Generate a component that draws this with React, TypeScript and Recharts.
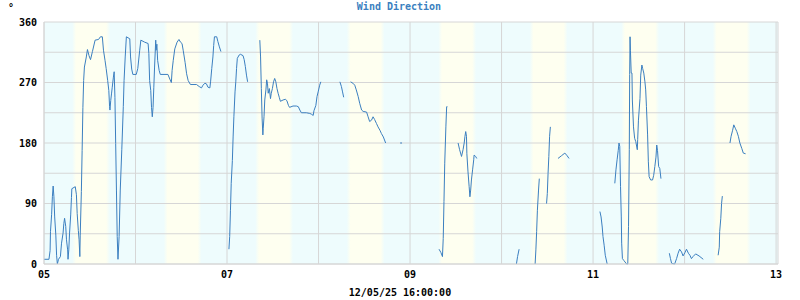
import { LineChart, Line, XAxis, YAxis, CartesianGrid, ReferenceArea } from "recharts";

// hours since 05 00:00, null = no reading
const hours = [
  0, 1.3, 1.6, 1.7, 2.0, 2.2, 2.4, 2.6, 2.8, 3.1, 3.3, 3.5, 3.8, 4.3, 4.6, 5.0, 5.2, 5.4, 5.7, 5.9, 6.2, 6.3, 6.5, 6.7, 7.0, 7.2, 7.3,
  8.2, 8.5, 8.7, 9.0, 9.2, 9.4, 9.5, 9.8, 10.0, 10.2, 10.4, 10.6, 11.1, 11.4, 11.8, 12.2, 12.7, 13.4, 14.3, 14.8, 15.3, 15.6, 16.0,
  16.3, 16.7, 17.0, 17.2, 17.3, 17.5, 17.7, 17.9, 18.2, 18.4, 18.6, 18.8, 19.0, 19.2, 19.4, 19.7, 20.0, 20.4, 20.8, 21.0, 21.3, 21.6,
  22.5, 22.7, 23.0, 23.3, 24.2, 24.6, 25.1, 25.4, 26.4, 27.3, 27.5, 27.7, 28.0, 28.2, 28.4, 28.6, 28.8, 29.0, 29.3, 29.4, 29.6, 29.8,
  30.2, 30.5, 32.5, 33.0, 33.4, 33.6, 33.9, 34.3, 34.9, 35.4, 35.8, 36.2, 36.5, 37.0, 37.4, 37.8, 38.4, 40.0, 40.7, 41.3, 41.7, 42.2,
  42.6, 43.0, 43.5, 43.7, 44.0, 44.3, 44.5, 44.7, 45.3, 45.6, 46.0, 46.4, 46.9,
  48.5, 48.7, 48.9, 49.1, 49.4, 49.6, 49.8, 50.1, 50.3, 50.5, 50.7, 51.2, 51.5, 52.2, 52.5, 52.8, 53.1, 53.4, 54.5,
  56.6, 56.8, 57.0, 57.2, 57.4, 57.5, 57.7, 57.9, 58.2, 58.4, 58.6, 58.8, 59.1, 59.4, 59.6, 59.9, 60.2, 60.5, 60.8, 61.1, 61.4, 61.7,
  62.0, 62.7, 63.3, 63.7, 64.1, 64.4, 65.3, 66.2, 66.7, 67.1, 67.5, 68.8, 69.7, 70.1, 70.6, 70.8, 71.3, 71.6, 71.9, 72.3, 72.6, 75,
  77.6, 78.0, 78.3, 78.6, 79.5,
  80.4, 81.0, 81.5, 81.9, 82.4, 82.8, 83.3, 83.7, 84.6, 85.0, 85.4, 85.9, 86.3, 86.7, 87.2, 87.6, 88.1, 88.5, 89.0, 89.6, 91,
  93.4, 93.9, 95,
  103.6, 104.1, 104.5, 104.7, 104.9, 105.1, 105.4, 105.6, 105.8, 107,
  108.6, 109.0, 109.5, 109.9, 110.2, 110.4, 110.6, 110.8, 110.9, 111.2, 111.5, 111.7, 111.9, 112.1, 112.4, 112.7, 112.8, 113.2, 113.5, 118,
  123.9, 124.2, 124.6, 126,
  128.8, 129.0, 129.2, 129.4, 129.7, 129.9, 130.8,
  131.8, 132.0, 132.2, 132.4, 132.6, 132.8, 133.5,
  134.8, 135.7, 136.6, 137.2, 137.7, 140,
  145.8, 146.1, 146.4, 146.6, 146.9, 147.2, 147.7, 148.5,
  149.7, 150.0, 150.3, 150.6, 150.8, 151.0, 151.2, 151.4, 151.5, 151.7, 152.1, 152.8, 153.1, 153.3, 153.5, 153.6, 153.7, 153.8, 154.0,
  154.2, 154.3, 154.6, 154.9, 155.2, 155.6, 155.7, 155.9, 156.3, 156.5, 156.8, 157.0, 157.3, 157.6, 157.8, 158.0, 158.3, 158.5, 158.7,
  159.1, 159.6, 159.9, 160.2, 160.5, 160.7, 160.9, 161.2, 161.5, 161.8, 163,
  164.0, 164.3, 164.6, 165.4, 165.9, 166.3, 166.7, 167.2, 167.6, 168.1, 168.5, 169.0, 169.4, 169.8, 170.2, 170.9, 171.8, 172.9, 174.5,
  176.8, 177.1, 177.2, 177.5, 177.7, 177.9, 179,
  179.9, 180.2, 180.6, 180.9, 181.3, 181.7, 182.1, 182.5, 183.0, 183.4, 184.0,
];

const direction: (number | null)[] = [
  7, 7, 20, 48, 74, 100, 116, 100, 70, 43, 13, 0, 7, 11, 31, 46, 60, 68, 56, 36, 21, 7, 21, 46, 73, 99, 112,
  115, 103, 75, 50, 36, 11, 43, 108, 169, 233, 273, 293, 308, 319, 310, 304, 316, 333, 334, 338, 338, 318, 303,
  291, 273, 258, 234, 229, 243, 253, 263, 278, 286, 248, 179, 110, 41, 7, 41, 110, 170, 234, 273, 308, 338,
  335, 308, 290, 282, 282, 291, 318, 333, 330, 328, 313, 273, 258, 233, 219, 233, 263, 293, 333, 318, 327, 303,
  288, 282, 282, 275, 270, 288, 303, 320, 330, 334, 330, 328, 318, 300, 283, 273, 267, 267, 264, 262, 266, 269,
  268, 263, 262, 272, 291, 308, 325, 338, 338, 331, 323, 316, null,
  22, 41, 80, 120, 154, 189, 219, 256, 271, 291, 306, 311, 312, 310, 304, 294, 281, 271, null,
  333, 308, 261, 217, 192, 202, 219, 244, 259, 274, 269, 254, 261, 246, 254, 261, 271, 276, 271, 261, 254, 248,
  242, 244, 245, 243, 236, 233, 235, 235, 234, 229, 225, 225, 224, 223, 221, 228, 236, 249, 256, 266, 271, null,
  271, 264, 256, 248, null,
  271, 269, 266, 259, 249, 239, 229, 227, 226, 219, 212, 214, 219, 215, 209, 204, 199, 194, 189, 180, null,
  180, 180, null,
  22, 17, 11, 38, 93, 150, 204, 234, 234, null,
  180, 170, 160, 170, 180, 190, 197, 190, 164, 137, 115, 100, 110, 125, 140, 155, 162, 160, 157, null,
  0, 11, 22, null,
  0, 21, 48, 80, 110, 127, null,
  90, 105, 135, 160, 190, 204, null,
  157, 161, 165, 161, 157, null,
  78, 70, 55, 41, 28, 13, 0, null,
  120, 140, 155, 169, 180, 175, 115, 70, 31, 8, 5, 0, 0, 56, 170, 282, 338, 318, 284,
  284, 244, 204, 187, 182, 170, 185, 214, 246, 281, 296, 291, 284, 271, 259, 234, 192, 152, 130,
  125, 125, 132, 145, 159, 177, 169, 145, 142, 127, null,
  16, 8, 1, 0, 8, 16, 22, 18, 12, 17, 22, 16, 13, 8, 11, 15, 12, 7, null,
  13, 25, 48, 68, 90, 101, null,
  180, 190, 199, 207, 202, 197, 190, 180, 172, 165, 164,
];

const dayTicks = [0, 24, 48, 72, 96, 120, 144, 168, 192, 192.5];
const dayLabels = ["05", "", "07", "", "09", "", "11", "", "13", ""];
const dirTicks = [0, 45, 90, 135, 180, 225, 270, 315, 360];
const dayStarts = [0, 24, 48, 72, 96, 120, 144, 168];
const sunrise = 7.4;
const sunset = 17.3;

const data = hours.map((t, i) => ({ t, dir: direction[i] }));

const font = "'DejaVu Sans Mono', monospace";

export default function App() {
  return (
    <div style={{ position: "relative", width: 800, height: 300 }}>
      <style>{"body{margin:0}"}</style>
      <LineChart width={800} height={300} data={data} margin={{ top: 22, right: 22, bottom: 0, left: 0 }}>
        <defs>
          <linearGradient id="dayGrad" x1="0" y1="0" x2="1" y2="0">
            <stop offset="0%" stopColor="#eefcfd" />
            <stop offset="10%" stopColor="#fefff0" />
            <stop offset="90%" stopColor="#fefff0" />
            <stop offset="100%" stopColor="#eefcfd" />
          </linearGradient>
        </defs>
        <ReferenceArea x1={0} x2={192.5} y1={0} y2={360} fill="#eefcfd" fillOpacity={1} stroke="none" zIndex={-150} />
        {dayStarts.map((d) => (
          <ReferenceArea
            key={d}
            x1={d + sunrise}
            x2={d + sunset}
            y1={0}
            y2={360}
            fill="url(#dayGrad)"
            fillOpacity={1}
            stroke="none"
            zIndex={-140}
          />
        ))}
        <CartesianGrid stroke="#d6d6d6" />
        <XAxis
          dataKey="t"
          type="number"
          domain={[0, 192.5]}
          ticks={dayTicks}
          interval={0}
          tickFormatter={(v) => dayLabels[dayTicks.indexOf(v)] ?? ""}
          tickLine={false}
          tickSize={5}
          height={36}
          stroke="#d6d6d6"
          tick={{ fill: "#000", fontSize: 10, fontWeight: "bold", fontFamily: font }}
        />
        <YAxis
          type="number"
          domain={[0, 360]}
          ticks={dirTicks}
          interval={0}
          tickFormatter={(v) => (v % 90 === 0 ? String(v) : "")}
          tickLine={false}
          tickSize={5}
          width={44}
          stroke="#d6d6d6"
          tick={{ fill: "#000", fontSize: 10, fontWeight: "bold", fontFamily: font }}
        />
        <Line
          dataKey="dir"
          type="linear"
          stroke="#3b7fc0"
          strokeWidth={1}
          dot={false}
          connectNulls={false}
          isAnimationActive={false}
        />
      </LineChart>
      <svg width={800} height={300} style={{ position: "absolute", left: 0, top: 0, pointerEvents: "none" }}>
        <text x={399} y={10} textAnchor="middle" fontFamily={font} fontSize={10} fontWeight="bold" fill="#3b7fc0">
          Wind Direction
        </text>
        <text x={8} y={11} fontFamily={font} fontSize={10} fontWeight="bold" fill="#000">
          °
        </text>
        <text x={400} y={296} textAnchor="middle" fontFamily={font} fontSize={10} fontWeight="bold" fill="#000">
          12/05/25 16:00:00
        </text>
      </svg>
    </div>
  );
}
